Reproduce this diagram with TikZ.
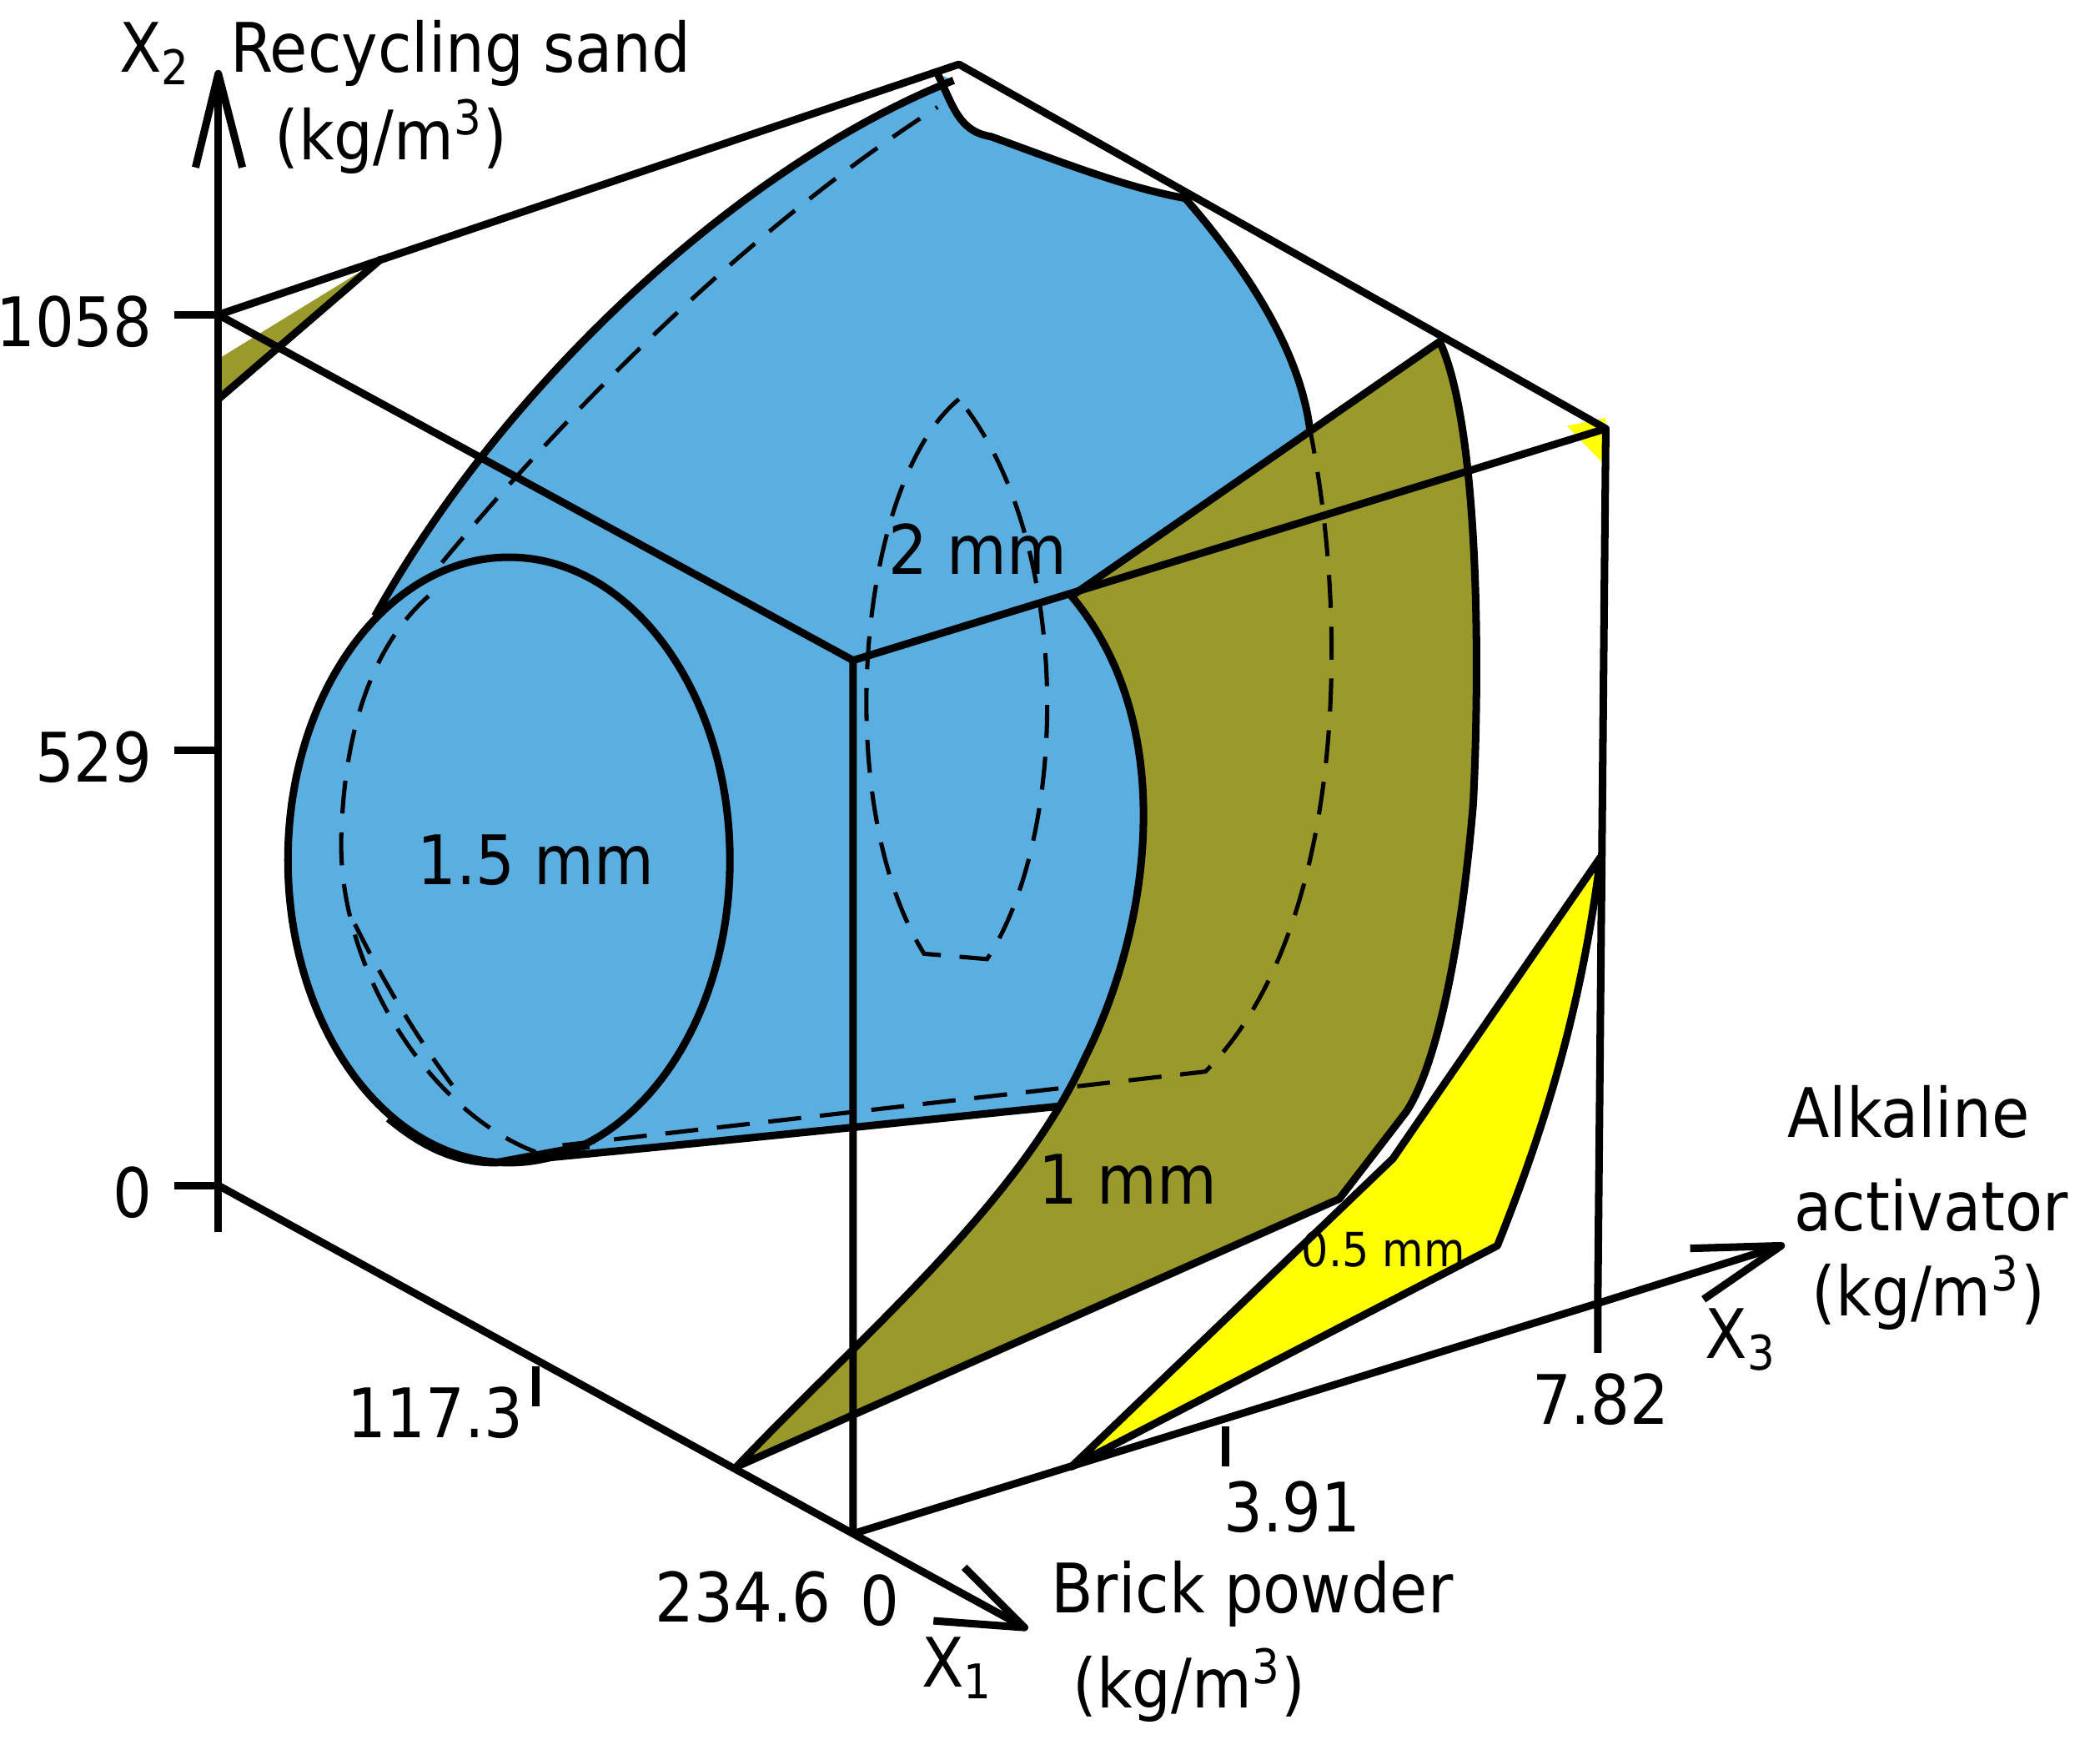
\documentclass[tikz,border=0pt]{standalone}
\usepackage{fontspec}
\setmainfont{DejaVu Sans Condensed}
\begin{document}
\begin{tikzpicture}[x=0.01cm,y=-0.01cm,
  ln/.style={line width=1.6pt,line join=round},
  dsh/.style={line width=0.9pt,dashed,dash pattern=on 7pt off 4pt},
  lab/.style={font=\fontsize{14.5}{17}\selectfont,inner sep=1pt}]
\definecolor{bl}{HTML}{5BAEE0}\definecolor{gr}{HTML}{999A2B}\definecolor{ye}{HTML}{FFFF00}
\useasboundingbox (0,0) rectangle (1568,1306);
\coordinate (O) at (163,885); \coordinate (TL) at (163,235); \coordinate (C) at (637,493);
\coordinate (BF) at (637,1145); \coordinate (BR) at (1193,973); \coordinate (TR) at (1199,320);
\coordinate (TB) at (716,48); \coordinate (M) at (800,445);
% blue surface
\fill[bl] (370,868) .. controls (560,850) and (700,835) .. (800,826) -- (870,700)
  -- (1000,420) -- (978,320) .. controls (970,260) and (930,200) .. (885,148) .. controls (840,140) and (790,120) .. (740,102) .. controls (716,98) and (712,80) .. (700,55) -- (712,60)
  .. controls (560,120) and (380,280) .. (280,460) .. controls (200,560) and (200,760) .. (290,835) .. controls (320,860) and (345,868) .. (370,868);
\draw[ln] (712,60) .. controls (560,120) and (380,280) .. (280,460);
\draw[ln] (700,55) .. controls (712,80) and (716,98) .. (740,102) .. controls (790,120) and (840,140) .. (885,148) .. controls (930,200) and (970,260) .. (978,320);
\draw[ln] (370,868) .. controls (560,850) and (700,835) .. (790,826);
\draw[ln,fill=bl] (380,642) ellipse [x radius=165,y radius=226];
\draw[ln] (290,835) .. controls (320,860) and (345,868) .. (370,868) -- (440,855);
% green surface
\draw[ln,fill=gr] (800,445) -- (1075,255) .. controls (1105,320) and (1105,500) .. (1100,600) .. controls (1090,720) and (1070,800) .. (1050,830)
  -- (1000,895) -- (550,1095) .. controls (640,1000) and (760,900) .. (810,790) .. controls (860,690) and (880,540) .. (800,445) -- cycle;
% yellow
\draw[ln,fill=ye] (800,1095) -- (1040,865) -- (1195,640) .. controls (1180,760) and (1150,850) .. (1118,930) -- cycle;
\fill[ye] (1170,318) -- (1199,312) -- (1199,348) -- cycle;
\fill[gr] (163,298) -- (285,193) -- (163,268) -- cycle;
\draw[ln] (163,298) -- (285,193);
% dashed
\draw[dsh] (716,298) .. controls (640,360) and (620,600) .. (690,712) -- (737,716) .. controls (800,620) and (800,400) .. (716,298);
\draw[dsh] (420,855) -- (900,800) .. controls (1000,700) and (1010,480) .. (978,320);
\draw[dsh] (400,860) .. controls (320,830) and (250,720) .. (255,620) .. controls (258,540) and (280,480) .. (320,445);
\draw[dsh] (330,420) .. controls (430,300) and (560,170) .. (700,80);
\draw[dsh] (265,690) .. controls (300,760) and (330,800) .. (345,820);
% cube
\draw[ln] (TL) -- (C) -- (BF); \draw[ln] (O) -- (BF) -- (BR) -- (1193,1010);
\draw[ln] (BR) -- (TR); \draw[ln] (C) -- (TR) -- (TB) -- (TL);
\coordinate (A2) at (163,55); \coordinate (A3) at (1330,930); \coordinate (A1) at (765,1215);
\draw[ln] (163,920) -- (A2); \draw[ln] (146,125) -- (A2) -- (181,125);
\draw[ln] (BR) -- (A3); \draw[ln] (1262,932) -- (A3) -- (1272,970);
\draw[ln] (BF) -- (A1); \draw[ln] (697,1210) -- (A1) -- (720,1170);
% ticks
\draw[ln] (130,235) -- (163,235); \draw[ln] (130,560) -- (163,560); \draw[ln] (130,885) -- (163,885);
\draw[ln] (400,1020) -- (400,1050); \draw[ln] (915,1065) -- (915,1095);
% labels
\node[lab,anchor=east] (l1) at (118,240) {1058};
\node[lab,anchor=east] (l2) at (118,565) {529};
\node[lab,anchor=east] (l3) at (118,890) {0};
\node[lab] (l4) at (325,1055) {117.3};
\node[lab] (l5) at (555,1192) {234.6};
\node[lab] (l6) at (657,1195) {0};
\node[lab] (l7) at (965,1125) {3.91};
\node[lab] (l8) at (1195,1045) {7.82};
\node[lab,anchor=west] (x2) at (85,40) {X\textsubscript{2} \ Recycling sand};
\node[lab] (x2u) at (292,102) {(kg/m\textsuperscript{3})};
\node[lab] (x1) at (715,1245) {X\textsubscript{1}};
\node[lab] (x1a) at (935,1190) {Brick powder};
\node[lab] (x1b) at (888,1258) {(kg/m\textsuperscript{3})};
\node[lab] (x3) at (1300,1000) {X\textsubscript{3}};
\node[lab] (a1) at (1425,830) {Alkaline};
\node[lab] (a2) at (1442,900) {activator};
\node[lab] (a3) at (1440,965) {(kg/m\textsuperscript{3})};
\node[lab] (m15) at (400,642) {1.5 mm};
\node[lab] (m2) at (730,410) {2 mm};
\node[lab] (m1) at (842,880) {1 mm};
\node[lab,font=\fontsize{10}{12}\selectfont] (m05) at (1033,933) {0.5 mm};
\end{tikzpicture}
\end{document}
